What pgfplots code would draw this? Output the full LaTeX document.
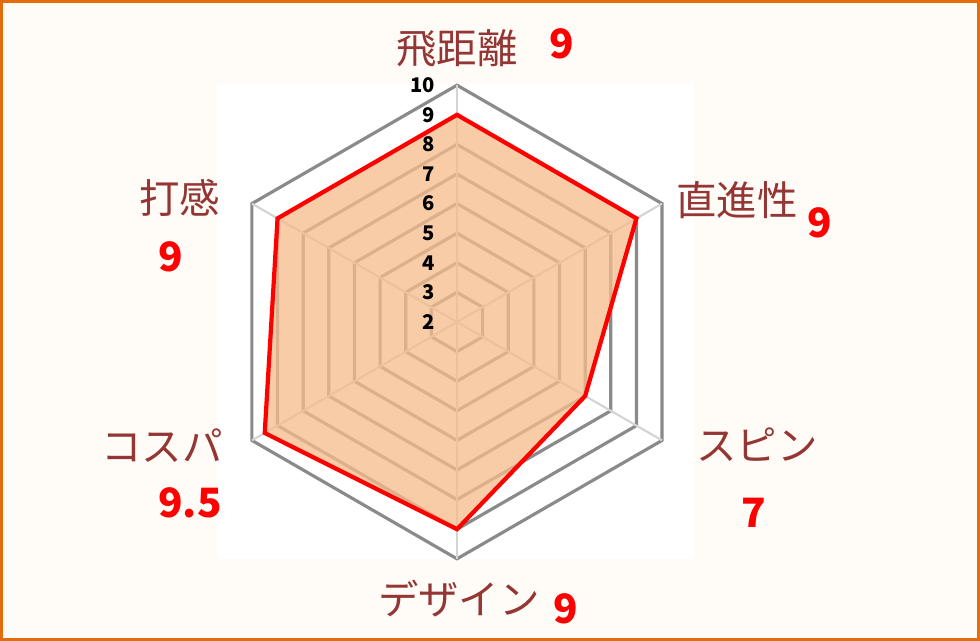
\documentclass[border=0pt]{standalone}
\usepackage{pgfplots}
\pgfplotsset{compat=1.18}
\usepgfplotslibrary{polar}
\usepackage{fontspec}
\newfontfamily\jp{Noto Sans CJK JP}

\definecolor{frameorange}{RGB}{228,108,10}
\definecolor{bgtint}{RGB}{255,251,247}
\definecolor{ringgray}{RGB}{138,138,138}
\definecolor{spokegray}{RGB}{212,212,212}
\definecolor{fillorange}{RGB}{246,188,140}
\definecolor{catbrown}{RGB}{148,54,52}
\definecolor{valred}{RGB}{255,0,0}

\begin{document}
\begin{tikzpicture}
  \path[use as bounding box] (-9.14,-6.38) rectangle (10.46,6.44);
  \fill[bgtint] (-9.14,-6.38) rectangle (10.46,6.44);
  \fill[white] (-4.80,-4.74) rectangle (4.74,4.76);
  \draw[frameorange, line width=0.065cm] (-9.107,-6.347) rectangle (10.427,6.407);

  \begin{polaraxis}[
    at={(0,0)}, anchor=center,
    scale only axis,
    width=9.472cm, height=9.472cm,
    hide axis,
    clip=false,
    xmin=0, xmax=360,
    ymin=2, ymax=10,
    y coord trafo/.code={\pgfmathparse{#1-2}},
    y coord inv trafo/.code={\pgfmathparse{#1+2}},
  ]
    % hexagonal grid rings 3..10
    \foreach \r in {3,...,10} {
      \edef\temp{\noexpand\addplot[ringgray, line width=1.8pt, line join=miter] coordinates {
        (90,\r) (30,\r) (330,\r) (270,\r) (210,\r) (150,\r)} -- cycle;}
      \temp
    }
    % spokes
    \foreach \a in {90,30,330,270,210,150} {
      \edef\temp{\noexpand\addplot[spokegray, line width=1.2pt] coordinates {(\a,2) (\a,10)};}
      \temp
    }
    % data: fill
    \addplot[draw=none, fill=fillorange, fill opacity=0.76] coordinates {
      (90,9) (30,9) (330,7) (270,9) (210,9.5) (150,9)} -- cycle;
    % data: line
    \addplot[valred, line width=2.4pt, line join=miter] coordinates {
      (90,9) (30,9) (330,7) (270,9) (210,9.5) (150,9)} -- cycle;
    % radial tick labels
    \foreach \r in {2,...,10} {
      \edef\temp{\noexpand\node[anchor=east, inner sep=0pt, xshift=-0.44cm,
        font=\noexpand\jp\noexpand\bfseries\noexpand\fontsize{11.5}{13}\noexpand\selectfont]
        at (axis cs:90,\r) {\r};}
      \temp
    }
  \end{polaraxis}

  % category labels
  \begin{scope}[every node/.style={font=\jp\fontsize{23}{26}\selectfont, text=catbrown, inner sep=0pt}]
    \node at (0.00, 5.48) {飛距離};
    \node at (5.60, 2.44) {直進性};
    \node at (6.00,-2.46) {スピン};
    \node at (0.04,-5.54) {デザイン};
    \node at (-5.90,-2.48) {コスパ};
    \node at (-5.54, 2.48) {打感};
  \end{scope}
  % value labels
  \begin{scope}[every node/.style={font=\jp\bfseries\fontsize{23}{26}\selectfont, text=valred, inner sep=0pt, anchor=base}]
    \node at (2.10, 5.26) {9};
    \node at (7.26, 1.68) {9};
    \node at (5.94,-4.12) {7};
    \node at (2.18,-6.02) {9};
    \node at (-5.34,-3.92) {9.5};
    \node at (-5.72, 1.00) {9};
  \end{scope}
\end{tikzpicture}
\end{document}
